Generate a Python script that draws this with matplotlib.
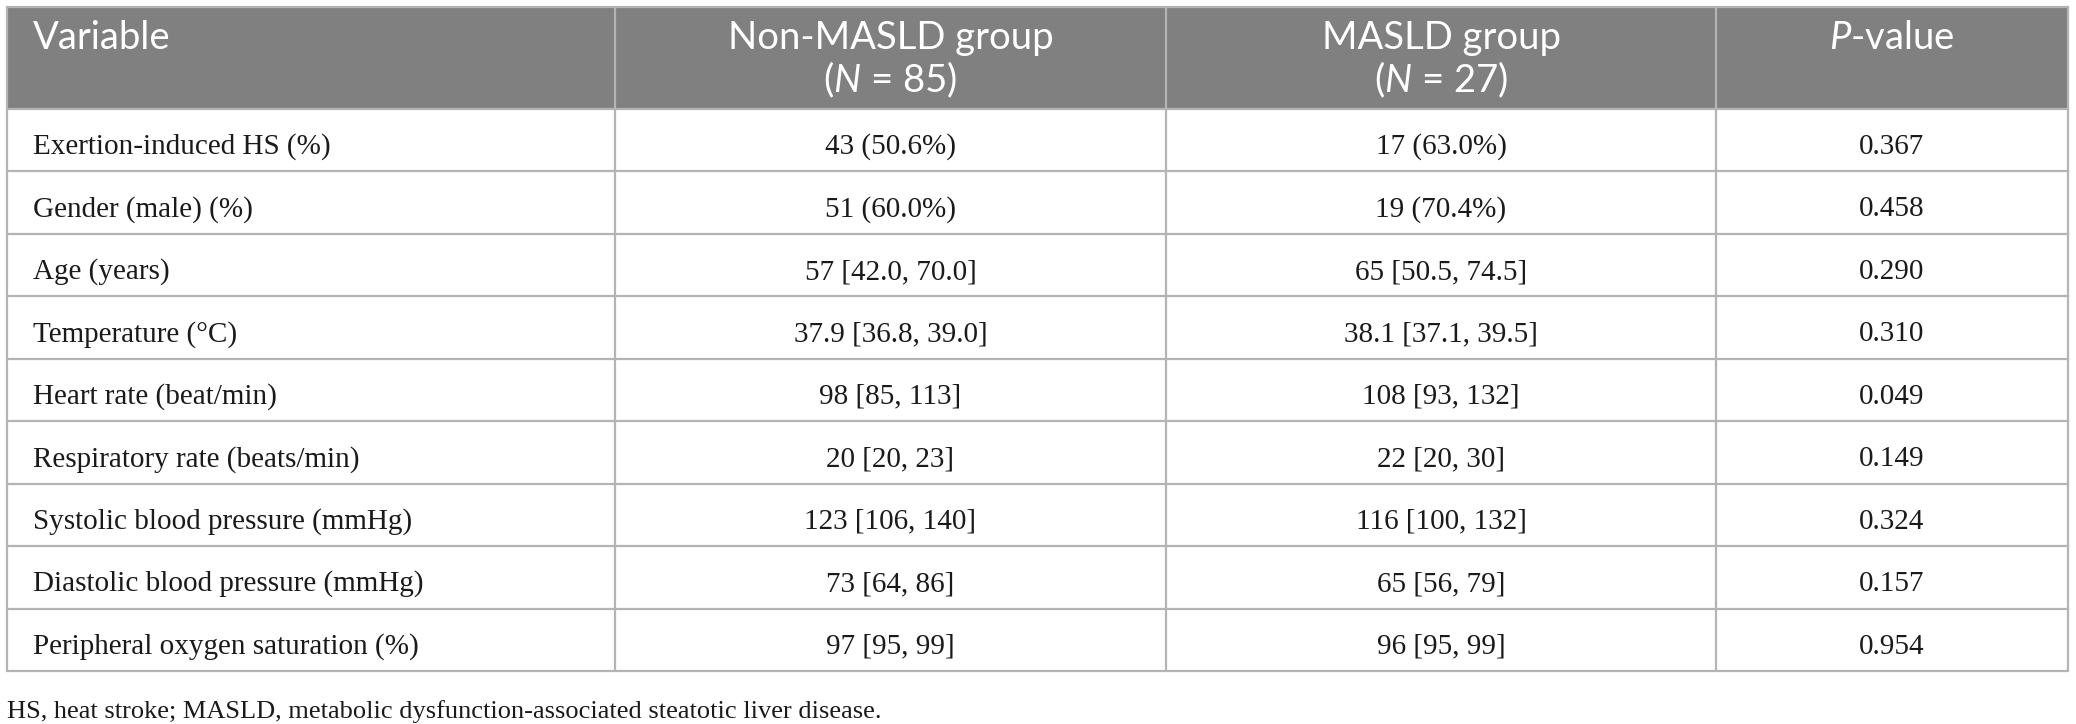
import matplotlib.pyplot as plt
from matplotlib.patches import Rectangle

# table content
headers = ["Variable", "Non-MASLD group", "MASLD group", r"$\mathit{P}$-value"]
header_n = ["", r"($\mathit{N}$ = 85)", r"($\mathit{N}$ = 27)", ""]
variables = [
    "Exertion-induced HS (%)",
    "Gender (male) (%)",
    "Age (years)",
    "Temperature (°C)",
    "Heart rate (beat/min)",
    "Respiratory rate (beats/min)",
    "Systolic blood pressure (mmHg)",
    "Diastolic blood pressure (mmHg)",
    "Peripheral oxygen saturation (%)",
]
non_masld = ["43 (50.6%)", "51 (60.0%)", "57 [42.0, 70.0]", "37.9 [36.8, 39.0]",
             "98 [85, 113]", "20 [20, 23]", "123 [106, 140]", "73 [64, 86]", "97 [95, 99]"]
masld = ["17 (63.0%)", "19 (70.4%)", "65 [50.5, 74.5]", "38.1 [37.1, 39.5]",
         "108 [93, 132]", "22 [20, 30]", "116 [100, 132]", "65 [56, 79]", "96 [95, 99]"]
p_values = ["0.367", "0.458", "0.290", "0.310", "0.049", "0.149", "0.324", "0.157", "0.954"]
footnote = "HS, heat stroke; MASLD, metabolic dysfunction-associated steatotic liver disease."

# layout (pixels)
W, H = 2076, 724
col_edges = [7, 615, 1166, 1716, 2068]
top, head_bot, bottom = 7, 109, 671
head_font = "Lato"
body_font = "Liberation Serif"
line_col = "#b4b4b4"
head_size = 27.5

plt.rcParams["mathtext.fontset"] = "custom"
plt.rcParams["mathtext.rm"] = head_font
plt.rcParams["mathtext.it"] = head_font + ":italic"

fig = plt.figure(figsize=(W / 100, H / 100), dpi=100)
ax = fig.add_axes([0, 0, 1, 1])
ax.set_xlim(0, W)
ax.set_ylim(H, 0)
ax.axis("off")

# header band
ax.add_patch(Rectangle((col_edges[0], top), col_edges[-1] - col_edges[0], head_bot - top,
                       facecolor="#808080", edgecolor="none"))

n_rows = len(variables)
row_h = (bottom - head_bot) / n_rows

# grid lines
for x in col_edges:
    ax.plot([x, x], [top, bottom], color=line_col, lw=1.6, solid_capstyle="butt")
ax.plot([col_edges[0], col_edges[-1]], [top, top], color=line_col, lw=1.6)
for i in range(n_rows + 1):
    y = head_bot + i * row_h
    ax.plot([col_edges[0], col_edges[-1]], [y, y], color=line_col, lw=1.6)

# header text
for j, (h, n) in enumerate(zip(headers, header_n)):
    if j == 0:
        ax.text(33, 49, h, color="white", fontsize=head_size, family=head_font,
                va="baseline", ha="left")
        continue
    cx = (col_edges[j] + col_edges[j + 1]) / 2
    ax.text(cx, 49, h, color="white", fontsize=head_size, family=head_font,
            va="baseline", ha="center")
    if n:
        ax.text(cx, 92, n, color="white", fontsize=head_size, family=head_font,
                va="baseline", ha="center")

# body text
for i in range(n_rows):
    yb = head_bot + i * row_h + 45
    ax.text(33, yb, variables[i], fontsize=21, family=body_font, va="baseline",
            ha="left", color="#1a1a1a")
    for j, col in enumerate([non_masld, masld, p_values], start=1):
        cx = (col_edges[j] + col_edges[j + 1]) / 2
        ax.text(cx, yb, col[i], fontsize=21, family=body_font, va="baseline",
                ha="center", color="#1a1a1a")

ax.text(7, 718, footnote, fontsize=19, family=body_font, va="baseline", ha="left",
        color="#1a1a1a")

fig.savefig("out.png", dpi=100)
